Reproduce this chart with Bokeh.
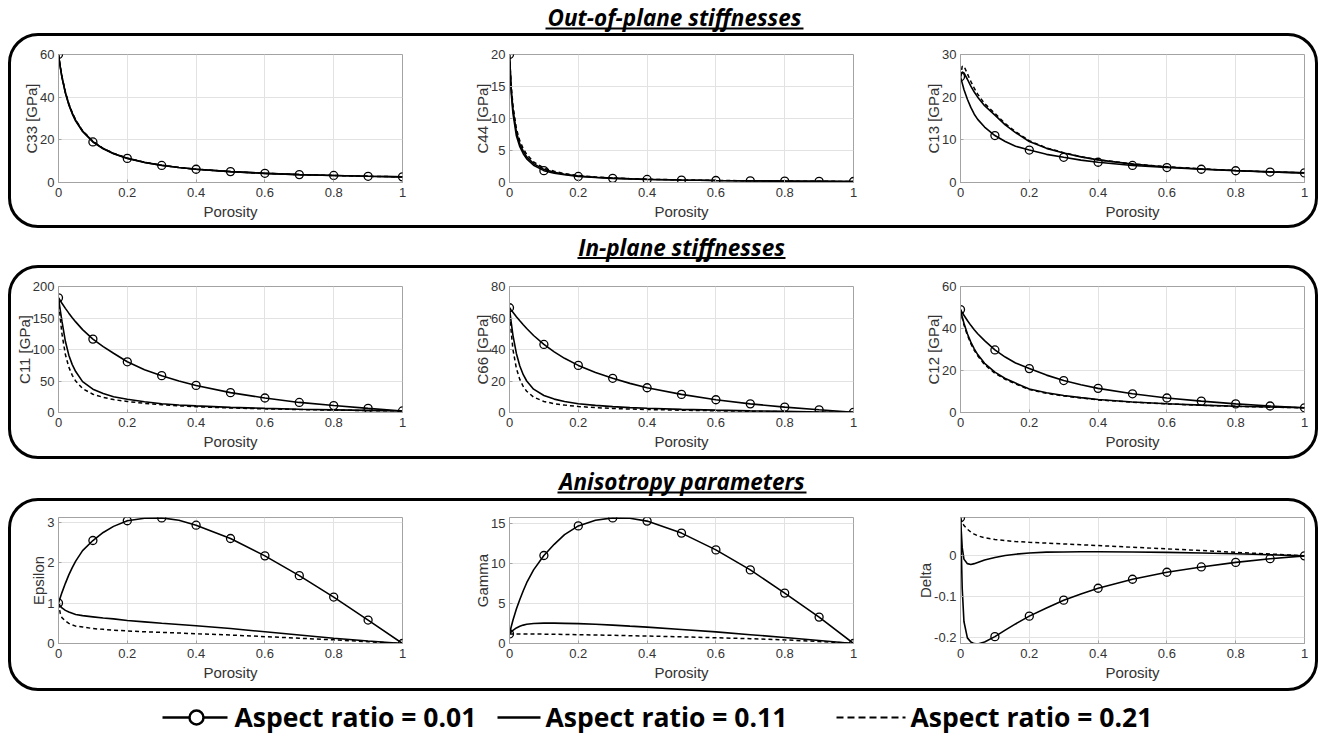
import numpy as np
from bokeh.plotting import figure
from bokeh.models import Range1d, FixedTicker, CustomJSTickFormatter
from bokeh.layouts import column, row
from bokeh.embed import file_html
from bokeh.resources import INLINE
from bokeh.core.properties import value

# ---------------------------------------------------------------- data
porosity = [0, 0.005, 0.01, 0.02, 0.03, 0.04, 0.05, 0.07, 0.1, 0.13, 0.16, 0.2,
            0.25, 0.3, 0.35, 0.4, 0.5, 0.6, 0.7, 0.8, 0.9, 1.0]
marker_porosity = [0, 0.1, 0.2, 0.3, 0.4, 0.5, 0.6, 0.7, 0.8, 0.9, 1.0]
x_ticks = [0, 0.2, 0.4, 0.6, 0.8, 1]

c33_ar001 = [60, 54.2, 49.3, 41.9, 36.4, 32.2, 28.8, 23.9, 19.0, 15.8, 13.5, 11.3, 9.4, 8.0, 7.0, 6.2, 5.1, 4.3, 3.7, 3.3, 2.9, 2.65]
c33_ar011 = [60, 54.3, 49.5, 42.2, 36.7, 32.5, 29.1, 24.1, 19.2, 15.9, 13.6, 11.4, 9.45, 8.05, 7.0, 6.2, 5.1, 4.3, 3.7, 3.3, 2.9, 2.65]
c33_ar021 = [60, 54.5, 49.8, 42.5, 37.0, 32.8, 29.3, 24.3, 19.3, 16.0, 13.7, 11.4, 9.5, 8.1, 7.05, 6.25, 5.1, 4.3, 3.7, 3.3, 2.9, 2.65]

c44_ar001 = [20, 14.0, 10.8, 7.3, 5.6, 4.5, 3.7, 2.7, 1.85, 1.45, 1.2, 0.95, 0.78, 0.65, 0.56, 0.48, 0.38, 0.31, 0.26, 0.22, 0.19, 0.16]
c44_ar011 = [20, 14.6, 11.5, 7.9, 6.0, 4.9, 4.0, 2.95, 2.05, 1.6, 1.3, 1.02, 0.82, 0.68, 0.58, 0.5, 0.39, 0.32, 0.27, 0.22, 0.19, 0.16]
c44_ar021 = [20, 15.2, 12.1, 8.4, 6.5, 5.3, 4.4, 3.2, 2.25, 1.75, 1.4, 1.1, 0.87, 0.71, 0.6, 0.52, 0.4, 0.33, 0.27, 0.23, 0.19, 0.16]

c13_ar001 = [24.8, 23.3, 21.8, 19.5, 17.6, 16.0, 14.8, 13.0, 11.0, 9.6, 8.5, 7.6, 6.6, 5.9, 5.25, 4.75, 4.0, 3.5, 3.1, 2.75, 2.45, 2.25]
c13_ar011 = [24.8, 25.9, 25.7, 24.2, 22.6, 21.2, 20.0, 18.0, 15.8, 13.5, 11.7, 9.6, 8.0, 6.9, 6.0, 5.3, 4.3, 3.65, 3.15, 2.8, 2.5, 2.25]
c13_ar021 = [24.8, 27.2, 27.3, 25.5, 23.7, 22.1, 20.7, 18.5, 16.2, 13.8, 11.9, 9.8, 8.1, 7.0, 6.05, 5.35, 4.35, 3.7, 3.2, 2.8, 2.5, 2.25]

c11_ar001 = [182, 177.7, 173.5, 165.3, 157.7, 150.5, 143.8, 131.5, 116.5, 104.6, 94.0, 80.5, 68.0, 58.5, 50.1, 43.0, 31.5, 23.0, 16.0, 11.0, 6.5, 2.5]
c11_ar011 = [182, 163, 145, 113, 91, 76, 65, 49, 37, 30, 25, 21, 17, 14, 12, 10.5, 8.2, 6.5, 5.2, 4.2, 3.3, 2.5]
c11_ar021 = [182, 150, 125, 92, 72, 59, 50, 38, 29, 24, 20.5, 17.5, 14.5, 12.3, 10.6, 9.2, 7.2, 5.8, 4.7, 3.8, 3.1, 2.5]

c66_ar001 = [66.5, 65.0, 63.6, 60.8, 58.2, 55.7, 53.3, 48.9, 43.2, 38.5, 34.4, 29.9, 25.4, 21.7, 18.5, 15.7, 11.5, 8.1, 5.5, 3.4, 1.7, 0.1]
c66_ar011 = [66.5, 57, 49, 37.5, 29.5, 24, 20, 14.8, 10.8, 8.5, 7.0, 5.6, 4.5, 3.7, 3.1, 2.7, 2.0, 1.5, 1.05, 0.7, 0.35, 0.05]
c66_ar021 = [66.5, 51, 40, 28, 21, 16.5, 13.5, 9.8, 7.0, 5.6, 4.7, 3.8, 3.1, 2.6, 2.2, 1.9, 1.45, 1.1, 0.8, 0.5, 0.25, 0.05]

c12_ar001 = [49, 47.6, 46.3, 43.8, 41.5, 39.4, 37.5, 34.2, 29.8, 26.4, 23.6, 20.9, 17.8, 15.2, 13.2, 11.5, 8.9, 6.9, 5.4, 4.1, 3.1, 2.25]
c12_ar011 = [49, 45.5, 42.5, 37.5, 33.5, 30.3, 27.6, 23.4, 19.2, 16.2, 14.0, 11.2, 9.4, 8.1, 7.1, 6.2, 5.0, 4.2, 3.5, 3.0, 2.6, 2.25]
c12_ar021 = [49, 45.0, 41.8, 36.8, 32.8, 29.6, 27.0, 22.8, 18.7, 15.8, 13.6, 10.9, 9.1, 7.9, 6.9, 6.0, 4.9, 4.1, 3.45, 2.95, 2.55, 2.25]

epsilon_ar001 = [1.0, 1.13, 1.26, 1.49, 1.7, 1.88, 2.04, 2.3, 2.55, 2.75, 2.9, 3.04, 3.1, 3.11, 3.05, 2.93, 2.6, 2.17, 1.68, 1.15, 0.58, 0.0]
epsilon_ar011 = [1.0, 0.93, 0.88, 0.82, 0.78, 0.75, 0.72, 0.69, 0.66, 0.63, 0.61, 0.57, 0.535, 0.5, 0.47, 0.44, 0.37, 0.29, 0.21, 0.13, 0.06, 0.0]
epsilon_ar021 = [1.0, 0.75, 0.64, 0.56, 0.5, 0.46, 0.43, 0.41, 0.37, 0.35, 0.33, 0.31, 0.29, 0.275, 0.26, 0.24, 0.21, 0.17, 0.13, 0.09, 0.045, 0.0]

gamma_ar001 = [1.2, 2.1, 2.9, 4.3, 5.5, 6.6, 7.6, 9.2, 11.0, 12.4, 13.6, 14.7, 15.4, 15.7, 15.65, 15.3, 13.8, 11.7, 9.2, 6.3, 3.3, 0.0]
gamma_ar011 = [1.2, 1.45, 1.65, 1.95, 2.15, 2.3, 2.4, 2.5, 2.55, 2.55, 2.52, 2.48, 2.4, 2.3, 2.17, 2.05, 1.75, 1.45, 1.1, 0.75, 0.38, 0.0]
gamma_ar021 = [1.2, 1.2, 1.2, 1.2, 1.19, 1.19, 1.19, 1.18, 1.17, 1.15, 1.13, 1.1, 1.06, 1.02, 0.98, 0.93, 0.83, 0.72, 0.6, 0.45, 0.25, 0.0]

delta_ar001 = [0.093, -0.08, -0.16, -0.2, -0.21, -0.214, -0.215, -0.21, -0.197, -0.181, -0.166, -0.147, -0.127, -0.108, -0.093, -0.079, -0.057, -0.04, -0.027, -0.016, -0.007, 0.0]
delta_ar011 = [0.093, 0.02, -0.008, -0.019, -0.021, -0.019, -0.016, -0.01, -0.004, 0.001, 0.004, 0.007, 0.009, 0.0095, 0.01, 0.01, 0.0095, 0.0085, 0.007, 0.005, 0.0025, 0.0]
delta_ar021 = [0.093, 0.082, 0.074, 0.065, 0.058, 0.053, 0.049, 0.044, 0.04, 0.037, 0.035, 0.033, 0.031, 0.029, 0.027, 0.025, 0.021, 0.017, 0.013, 0.0085, 0.0045, 0.0]

section_titles = ["Out-of-plane stiffnesses", "In-plane stiffnesses", "Anisotropy parameters"]
legend_labels = ["Aspect ratio = 0.01", "Aspect ratio = 0.11", "Aspect ratio = 0.21"]

# (y label, y limits, y ticks, series for aspect ratios 0.01 / 0.11 / 0.21)
panels = [
    [("C33 [GPa]", (0, 60), [0, 20, 40, 60], c33_ar001, c33_ar011, c33_ar021),
     ("C44 [GPa]", (0, 20), [0, 5, 10, 15, 20], c44_ar001, c44_ar011, c44_ar021),
     ("C13 [GPa]", (0, 30), [0, 10, 20, 30], c13_ar001, c13_ar011, c13_ar021)],
    [("C11 [GPa]", (0, 200), [0, 50, 100, 150, 200], c11_ar001, c11_ar011, c11_ar021),
     ("C66 [GPa]", (0, 80), [0, 20, 40, 60, 80], c66_ar001, c66_ar011, c66_ar021),
     ("C12 [GPa]", (0, 60), [0, 20, 40, 60], c12_ar001, c12_ar011, c12_ar021)],
    [("Epsilon", (0, 3.12), [0, 1, 2, 3], epsilon_ar001, epsilon_ar011, epsilon_ar021),
     ("Gamma", (0, 15.75), [0, 5, 10, 15], gamma_ar001, gamma_ar011, gamma_ar021),
     ("Delta", (-0.2137, 0.0935), [-0.2, -0.1, 0], delta_ar001, delta_ar011, delta_ar021)],
]

# ---------------------------------------------------------------- styling / geometry
AXIS_FONT = "Liberation Sans"
HEAD_FONT = "Open Sans"
TEXT_COL = "#333333"
FRAME_COL = "#a3a3a3"
GRID_COL = "#e2e2e2"

col_widths = [449, 450, 405]
col_border_left = [47, 49, 50]
col_border_right = [58, 57, 11]
row_heights = [189, 188, 187]
row_border_top = [18, 18, 16]
row_border_bottom = [43, 44, 45]

marker_idx = [porosity.index(m) for m in marker_porosity]
tick_fmt = "return String(tick)"


def make_panel(spec, ci, ri):
    ylabel, ylim, yticks, s001, s011, s021 = spec
    p = figure(width=col_widths[ci], height=row_heights[ri],
               x_range=Range1d(0, 1), y_range=Range1d(*ylim),
               output_backend="svg", toolbar_location=None,
               min_border_left=col_border_left[ci], min_border_right=col_border_right[ci],
               min_border_top=row_border_top[ri], min_border_bottom=row_border_bottom[ri],
               x_axis_label="Porosity", y_axis_label=ylabel)
    p.background_fill_color = "white"
    p.border_fill_color = None
    p.outline_line_color = FRAME_COL
    p.outline_line_width = 1

    p.xaxis.ticker = FixedTicker(ticks=x_ticks)
    p.yaxis.ticker = FixedTicker(ticks=yticks)
    p.xgrid.ticker = FixedTicker(ticks=x_ticks)
    p.ygrid.ticker = FixedTicker(ticks=yticks)
    p.xaxis.formatter = CustomJSTickFormatter(code=tick_fmt)
    p.yaxis.formatter = CustomJSTickFormatter(code=tick_fmt)
    p.grid.grid_line_color = GRID_COL
    p.grid.grid_line_width = 1

    for ax in (p.xaxis[0], p.yaxis[0]):
        ax.axis_line_color = FRAME_COL
        ax.major_tick_line_color = FRAME_COL
        ax.major_tick_in = 3
        ax.major_tick_out = 0
        ax.minor_tick_line_color = None
        ax.major_label_text_font = AXIS_FONT
        ax.major_label_text_font_size = "13px"
        ax.major_label_text_color = TEXT_COL
        ax.axis_label_text_font = AXIS_FONT
        ax.axis_label_text_font_size = "15px"
        ax.axis_label_text_font_style = "normal"
        ax.axis_label_text_color = TEXT_COL
    p.xaxis.major_label_standoff = 5
    p.yaxis.major_label_standoff = 4
    p.xaxis.axis_label_standoff = 3
    p.yaxis.axis_label_standoff = -3

    p.line(porosity, s021, line_color="black", line_width=1.5, line_dash="4 3")
    p.line(porosity, s011, line_color="black", line_width=1.6)
    p.line(porosity, s001, line_color="black", line_width=1.6)
    p.scatter([porosity[i] for i in marker_idx], [s001[i] for i in marker_idx],
              marker="circle", size=8, fill_color=None, line_color="black", line_width=1.3)
    return p


def blank(width, height, yr):
    p = figure(width=width, height=height, x_range=Range1d(0, width), y_range=Range1d(*yr),
               output_backend="svg", toolbar_location=None,
               min_border=0, min_border_left=0, min_border_right=0,
               min_border_top=0, min_border_bottom=0)
    p.axis.visible = False
    p.grid.visible = False
    p.outline_line_color = None
    p.background_fill_color = None
    p.border_fill_color = None
    return p


# heading geometry: (figure height, text centre from top, underline from top, centre x, half width)
heading_geom = [(33, 17, 28, 674, 129), (37, 19, 29.5, 681, 104), (39, 22, 33, 681.5, 124.5)]


def make_heading(text, geom):
    h, ty, uy, cx, hw = geom
    p = blank(1321, h, (h, 0))
    p.text(x=[cx], y=[ty], text=[text], text_align="center", text_baseline="middle",
           text_font=value(HEAD_FONT), text_font_style="bold italic",
           text_font_size="22.5px", text_color="black")
    p.segment(x0=[cx - hw], x1=[cx + hw], y0=[uy], y1=[uy], line_color="black", line_width=2)
    return p


def make_legend():
    h = 45
    yc = 26
    p = blank(1321, h, (h, 0))
    # sample line, marker and label for each aspect ratio
    p.segment(x0=[162], x1=[227], y0=[yc], y1=[yc], line_color="black", line_width=2.5)
    p.scatter(x=[196], y=[yc], marker="circle", size=14, fill_color="white",
              line_color="black", line_width=2.5)
    p.segment(x0=[497], x1=[540], y0=[yc], y1=[yc], line_color="black", line_width=2.5)
    p.segment(x0=[836], x1=[905], y0=[yc], y1=[yc], line_color="black", line_width=2,
              line_dash="7 4")
    p.text(x=[234, 545, 910], y=[yc - 1] * 3, text=legend_labels, text_align="left",
           text_baseline="middle", text_font=value(HEAD_FONT), text_font_style="bold",
           text_font_size="26.5px", text_color="black")
    return p


blocks = []
for ri, specs in enumerate(panels):
    blocks.append(make_heading(section_titles[ri], heading_geom[ri]))
    figs = [make_panel(s, ci, ri) for ci, s in enumerate(specs)]
    blocks.append(row(*figs, spacing=0, margin=(0, 0, 0, 8),
                      styles={"border": "3px solid black", "border-radius": "30px",
                              "background": "white"}))
blocks.append(make_legend())

page = column(*blocks, spacing=0)

open("out.html", "w").write(file_html(page, INLINE))
